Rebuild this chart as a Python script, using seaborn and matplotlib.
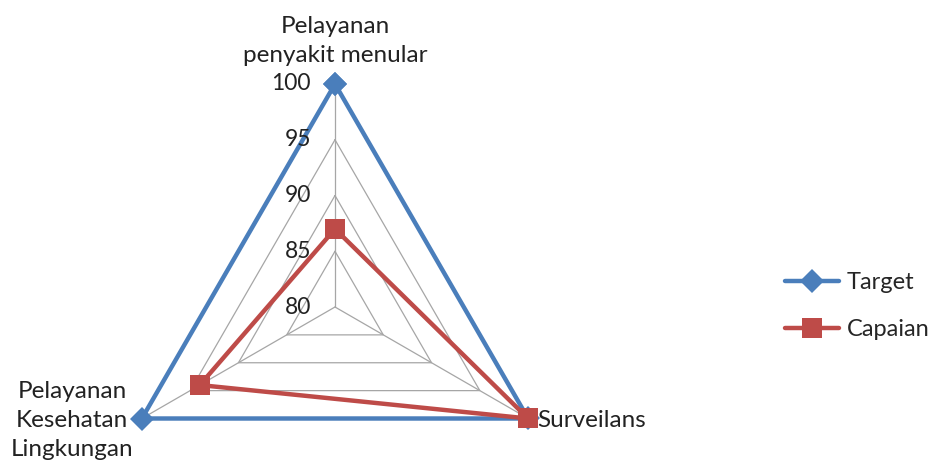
import numpy as np
import pandas as pd
import seaborn as sns
from matplotlib import pyplot as plt

categories = ["Pelayanan\npenyakit menular", "Surveilans", "Pelayanan\nKesehatan\nLingkungan"]
target = [100, 100, 100]
capaian = [87, 100, 94]
levels = [80, 85, 90, 95, 100]

BLUE = "#4A7EBB"
RED = "#BE4B48"
GRID = "#A6A6A6"


def radar() -> None:
    sns.set_theme(style="white")
    plt.rcParams["font.family"] = ["Lato", "DejaVu Sans"]

    fig = plt.figure(figsize=(9.36, 4.7), dpi=100)
    # center at (335, 307) px, radius 223 px
    ax = fig.add_axes([112 / 936, -60 / 470, 446 / 936, 446 / 470], projection="polar")
    ax.set_theta_offset(np.pi / 2)
    ax.set_theta_direction(-1)
    ax.set_ylim(levels[0], levels[-1])

    angles = np.linspace(0, 2 * np.pi, len(categories), endpoint=False)
    closed = np.append(angles, 2 * np.pi)

    # polygon grid + spokes
    for lv in levels[1:]:
        ax.plot(closed, [lv] * len(closed), color=GRID, lw=0.9, zorder=1)
    for a in angles:
        ax.plot([a, a], [levels[0], levels[-1]], color=GRID, lw=0.9, zorder=1)

    df = pd.DataFrame({
        "theta": np.concatenate([closed, closed]),
        "value": target + target[:1] + capaian + capaian[:1],
        "series": ["Target"] * len(closed) + ["Capaian"] * len(closed),
    })
    sns.lineplot(data=df[df.series == "Target"], x="theta", y="value", sort=False,
                 estimator=None, color=BLUE, lw=3.2, marker="D", markersize=12,
                 markeredgewidth=0, label="Target", ax=ax, zorder=3, clip_on=False)
    sns.lineplot(data=df[df.series == "Capaian"], x="theta", y="value", sort=False,
                 estimator=None, color=RED, lw=3.2, marker="s", markersize=14,
                 markeredgewidth=0, label="Capaian", ax=ax, zorder=4, clip_on=False)

    ax.grid(False)
    ax.spines["polar"].set_visible(False)
    ax.set_xticks([])
    ax.set_yticks([])
    ax.set_xlabel("")
    ax.set_ylabel("")

    for lv in levels:
        ax.annotate(str(lv), (0, lv), xytext=(-24, 0), textcoords="offset pixels",
                    ha="right", va="center", fontsize=16.5, color="#222222")

    offsets = [((0, 18), "center", "bottom"), ((9, -2), "left", "center"), ((-70, -2), "center", "center")]
    for a, lab, (off, ha, va) in zip(angles, categories, offsets):
        ax.annotate(lab, (a, levels[-1]), xytext=off, textcoords="offset pixels",
                    ha=ha, va=va, multialignment="center", linespacing=1.45,
                    fontsize=17.5, color="#222222", annotation_clip=False)

    handles, labels = ax.get_legend_handles_labels()
    ax.get_legend().remove()
    fig.legend(handles, labels, loc="center left", bbox_to_anchor=(785 / 936, 1 - 306 / 470),
               frameon=False, fontsize=17, handlelength=2.3, handletextpad=0.3,
               labelspacing=1.1, borderpad=0, borderaxespad=0)

    fig.savefig("out.png", dpi=100)


if __name__ == "__main__":
    radar()
